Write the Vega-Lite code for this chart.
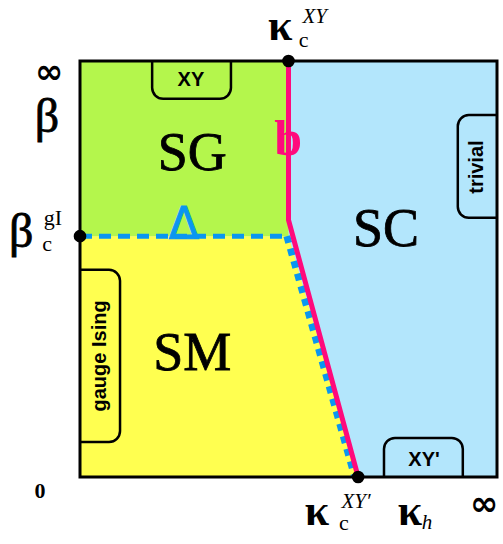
{
  "$schema": "https://vega.github.io/schema/vega-lite/v6.json",
  "width": 417,
  "height": 416,
  "autosize": {"type": "none"},
  "padding": {"left": 80, "top": 61, "right": 6, "bottom": 67},
  "background": "white",
  "config": {"view": {"stroke": null}},
  "layer": [
    {
      "data": {"values": [{"region": "SC", "x0": 0, "x1": 1, "y0": 0, "y1": 1}, {"region": "SG", "x0": 0, "x1": 0.5, "y0": 0.579, "y1": 1}]},
      "mark": {"type": "rect"},
      "encoding": {
        "x": {"field": "x0", "type": "quantitative", "scale": {"domain": [0, 1], "nice": false, "zero": false}, "axis": null},
        "x2": {"field": "x1"},
        "y": {"field": "y0", "type": "quantitative", "scale": {"domain": [0, 1], "nice": false, "zero": false}, "axis": null},
        "y2": {"field": "y1"},
        "color": {"field": "region", "type": "nominal", "scale": {"domain": ["SC", "SG", "SM"], "range": ["#b3e6fc", "#b4f64c", "#ffff50"]}, "legend": null}
      }
    },
    {
      "data": {"values": [{"region": "SM", "x": 0, "y": 0.579}, {"region": "SM", "x": 0.5, "y": 0.579}, {"region": "SM", "x": 0.667, "y": 0}]},
      "mark": {"type": "area", "color": "#ffff50"},
      "encoding": {
        "x": {"field": "x", "type": "quantitative", "scale": {"domain": [0, 1], "nice": false, "zero": false}, "axis": null},
        "y": {"field": "y", "type": "quantitative", "stack": null, "scale": {"domain": [0, 1], "nice": false, "zero": false}, "axis": null},
        "y2": {"datum": 0}
      }
    },
    {
      "data": {"values": [
        {"tab": "XY", "x0": 0.173, "x1": 0.362, "y0": 0.909, "y1": 1.1},
        {"tab": "XY'", "x0": 0.729, "x1": 0.918, "y0": -0.1, "y1": 0.094},
        {"tab": "gauge Ising", "x0": -0.1, "x1": 0.096, "y0": 0.084, "y1": 0.498},
        {"tab": "trivial", "x0": 0.906, "x1": 1.1, "y0": 0.623, "y1": 0.87}
      ]},
      "mark": {"type": "rect", "clip": true, "fill": null, "stroke": "black", "strokeWidth": 2.5, "cornerRadius": 11},
      "encoding": {
        "x": {"field": "x0", "type": "quantitative", "scale": {"domain": [0, 1], "nice": false, "zero": false}, "axis": null},
        "x2": {"field": "x1"},
        "y": {"field": "y0", "type": "quantitative", "scale": {"domain": [0, 1], "nice": false, "zero": false}, "axis": null},
        "y2": {"field": "y1"}
      }
    },
    {
      "data": {"values": [{"o": 1, "x": 0, "y": 0.579}, {"o": 2, "x": 0.49, "y": 0.579}]},
      "mark": {"type": "line", "color": "#0a96f0", "strokeWidth": 5, "strokeDash": [12, 7]},
      "encoding": {
        "x": {"field": "x", "type": "quantitative", "scale": {"domain": [0, 1], "nice": false, "zero": false}, "axis": null},
        "y": {"field": "y", "type": "quantitative", "scale": {"domain": [0, 1], "nice": false, "zero": false}, "axis": null},
        "order": {"field": "o"}
      }
    },
    {
      "data": {"values": [{"o": 1, "x": 0.496, "y": 0.579}, {"o": 2, "x": 0.659, "y": 0}]},
      "mark": {"type": "line", "color": "#0a96f0", "strokeWidth": 7, "strokeDash": [7, 6]},
      "encoding": {
        "x": {"field": "x", "type": "quantitative", "scale": {"domain": [0, 1], "nice": false, "zero": false}, "axis": null},
        "y": {"field": "y", "type": "quantitative", "scale": {"domain": [0, 1], "nice": false, "zero": false}, "axis": null},
        "order": {"field": "o"}
      }
    },
    {
      "data": {"values": [{"o": 1, "x": 0.5, "y": 1}, {"o": 2, "x": 0.5, "y": 0.618}, {"o": 3, "x": 0.667, "y": 0}]},
      "mark": {"type": "line", "color": "#ff0a7c", "strokeWidth": 5},
      "encoding": {
        "x": {"field": "x", "type": "quantitative", "scale": {"domain": [0, 1], "nice": false, "zero": false}, "axis": null},
        "y": {"field": "y", "type": "quantitative", "scale": {"domain": [0, 1], "nice": false, "zero": false}, "axis": null},
        "order": {"field": "o"}
      }
    },
    {
      "data": {"values": [{"x0": 0, "x1": 1, "y0": 0, "y1": 1}]},
      "mark": {"type": "rect", "fill": null, "stroke": "black", "strokeWidth": 3},
      "encoding": {
        "x": {"field": "x0", "type": "quantitative", "scale": {"domain": [0, 1], "nice": false, "zero": false}, "axis": null},
        "x2": {"field": "x1"},
        "y": {"field": "y0", "type": "quantitative", "scale": {"domain": [0, 1], "nice": false, "zero": false}, "axis": null},
        "y2": {"field": "y1"}
      }
    },
    {
      "data": {"values": [{"x": 0.5, "y": 1}, {"x": 0, "y": 0.579}, {"x": 0.667, "y": 0}]},
      "mark": {"type": "circle", "color": "black", "opacity": 1, "size": 160},
      "encoding": {
        "x": {"field": "x", "type": "quantitative", "scale": {"domain": [0, 1], "nice": false, "zero": false}, "axis": null},
        "y": {"field": "y", "type": "quantitative", "scale": {"domain": [0, 1], "nice": false, "zero": false}, "axis": null}
      }
    },
    {
      "data": {"values": [{"t": "SG", "x": 0.269, "y": 0.781}, {"t": "SM", "x": 0.269, "y": 0.3}, {"t": "SC", "x": 0.734, "y": 0.599}]},
      "mark": {"type": "text", "font": "Liberation Serif", "fontSize": 54, "color": "black", "align": "center", "baseline": "middle", "dy": 2, "stroke": "black", "strokeWidth": 0.8},
      "encoding": {
        "x": {"field": "x", "type": "quantitative", "scale": {"domain": [0, 1], "nice": false, "zero": false}, "axis": null},
        "y": {"field": "y", "type": "quantitative", "scale": {"domain": [0, 1], "nice": false, "zero": false}, "axis": null},
        "text": {"field": "t"}
      }
    },
    {
      "data": {"values": [{"t": "b", "x": 0.499, "y": 0.81}]},
      "mark": {"type": "text", "font": "Liberation Serif", "fontWeight": "bold", "fontSize": 50, "color": "#ff0a7c", "align": "center", "baseline": "middle"},
      "encoding": {
        "x": {"field": "x", "type": "quantitative", "scale": {"domain": [0, 1], "nice": false, "zero": false}, "axis": null},
        "y": {"field": "y", "type": "quantitative", "scale": {"domain": [0, 1], "nice": false, "zero": false}, "axis": null},
        "text": {"field": "t"}
      }
    },
    {
      "data": {"values": [{"t": "Δ", "x": 0.249, "y": 0.603}]},
      "mark": {"type": "text", "font": "DejaVu Sans", "fontSize": 44, "color": "#0a96f0", "align": "center", "baseline": "middle", "stroke": "#0a96f0", "strokeWidth": 1},
      "encoding": {
        "x": {"field": "x", "type": "quantitative", "scale": {"domain": [0, 1], "nice": false, "zero": false}, "axis": null},
        "y": {"field": "y", "type": "quantitative", "scale": {"domain": [0, 1], "nice": false, "zero": false}, "axis": null},
        "text": {"field": "t"}
      }
    },
    {
      "data": {"values": [{"t": "XY", "x": 0.266, "y": 0.954}, {"t": "XY'", "x": 0.825, "y": 0.041}]},
      "mark": {"type": "text", "font": "Liberation Sans", "fontWeight": "bold", "fontSize": 20, "color": "black", "align": "center", "baseline": "middle"},
      "encoding": {
        "x": {"field": "x", "type": "quantitative", "scale": {"domain": [0, 1], "nice": false, "zero": false}, "axis": null},
        "y": {"field": "y", "type": "quantitative", "scale": {"domain": [0, 1], "nice": false, "zero": false}, "axis": null},
        "text": {"field": "t"}
      }
    },
    {
      "data": {"values": [{"t": "gauge Ising", "x": 0.048, "y": 0.291}, {"t": "trivial", "x": 0.952, "y": 0.745}]},
      "mark": {"type": "text", "font": "Liberation Sans", "fontWeight": "bold", "fontSize": 20, "color": "black", "align": "center", "baseline": "middle", "angle": 270},
      "encoding": {
        "x": {"field": "x", "type": "quantitative", "scale": {"domain": [0, 1], "nice": false, "zero": false}, "axis": null},
        "y": {"field": "y", "type": "quantitative", "scale": {"domain": [0, 1], "nice": false, "zero": false}, "axis": null},
        "text": {"field": "t"}
      }
    },
    {
      "data": {"values": [{"t": "β", "x": -0.079, "y": 0.863}, {"t": "β", "x": -0.141, "y": 0.587}]},
      "mark": {"type": "text", "font": "Liberation Serif", "fontSize": 48, "color": "black", "align": "center", "baseline": "middle", "stroke": "black", "strokeWidth": 0.8},
      "encoding": {
        "x": {"field": "x", "type": "quantitative", "scale": {"domain": [0, 1], "nice": false, "zero": false}, "axis": null},
        "y": {"field": "y", "type": "quantitative", "scale": {"domain": [0, 1], "nice": false, "zero": false}, "axis": null},
        "text": {"field": "t"}
      }
    },
    {
      "data": {"values": [{"t": "κ", "x": 0.48, "y": 1.082}, {"t": "κ", "x": 0.568, "y": -0.084}, {"t": "κ", "x": 0.791, "y": -0.084}]},
      "mark": {"type": "text", "font": "Liberation Serif", "fontWeight": "bold", "fontSize": 44, "color": "black", "align": "center", "baseline": "middle"},
      "encoding": {
        "x": {"field": "x", "type": "quantitative", "scale": {"domain": [0, 1], "nice": false, "zero": false}, "axis": null},
        "y": {"field": "y", "type": "quantitative", "scale": {"domain": [0, 1], "nice": false, "zero": false}, "axis": null},
        "text": {"field": "t"}
      }
    },
    {
      "data": {"values": [{"t": "∞", "x": -0.074, "y": 0.971}, {"t": "∞", "x": 0.969, "y": -0.067}]},
      "mark": {"type": "text", "font": "DejaVu Sans", "fontWeight": "bold", "fontSize": 34, "color": "black", "align": "center", "baseline": "middle"},
      "encoding": {
        "x": {"field": "x", "type": "quantitative", "scale": {"domain": [0, 1], "nice": false, "zero": false}, "axis": null},
        "y": {"field": "y", "type": "quantitative", "scale": {"domain": [0, 1], "nice": false, "zero": false}, "axis": null},
        "text": {"field": "t"}
      }
    },
    {
      "data": {"values": [{"t": "c", "x": -0.079, "y": 0.56}, {"t": "c", "x": 0.536, "y": 1.05}, {"t": "c", "x": 0.633, "y": -0.11}, {"t": "gI", "x": -0.065, "y": 0.622}]},
      "mark": {"type": "text", "font": "Liberation Serif", "fontSize": 22, "color": "black", "align": "center", "baseline": "middle"},
      "encoding": {
        "x": {"field": "x", "type": "quantitative", "scale": {"domain": [0, 1], "nice": false, "zero": false}, "axis": null},
        "y": {"field": "y", "type": "quantitative", "scale": {"domain": [0, 1], "nice": false, "zero": false}, "axis": null},
        "text": {"field": "t"}
      }
    },
    {
      "data": {"values": [{"t": "XY", "x": 0.563, "y": 1.106}, {"t": "XY′", "x": 0.662, "y": -0.06}, {"t": "h", "x": 0.832, "y": -0.111}]},
      "mark": {"type": "text", "font": "Liberation Serif", "fontStyle": "italic", "fontSize": 21, "color": "black", "align": "center", "baseline": "middle"},
      "encoding": {
        "x": {"field": "x", "type": "quantitative", "scale": {"domain": [0, 1], "nice": false, "zero": false}, "axis": null},
        "y": {"field": "y", "type": "quantitative", "scale": {"domain": [0, 1], "nice": false, "zero": false}, "axis": null},
        "text": {"field": "t"}
      }
    },
    {
      "data": {"values": [{"t": "0", "x": -0.096, "y": -0.034}]},
      "mark": {"type": "text", "font": "Liberation Serif", "fontWeight": "bold", "fontSize": 22, "color": "black", "align": "center", "baseline": "middle"},
      "encoding": {
        "x": {"field": "x", "type": "quantitative", "scale": {"domain": [0, 1], "nice": false, "zero": false}, "axis": null},
        "y": {"field": "y", "type": "quantitative", "scale": {"domain": [0, 1], "nice": false, "zero": false}, "axis": null},
        "text": {"field": "t"}
      }
    }
  ]
}
